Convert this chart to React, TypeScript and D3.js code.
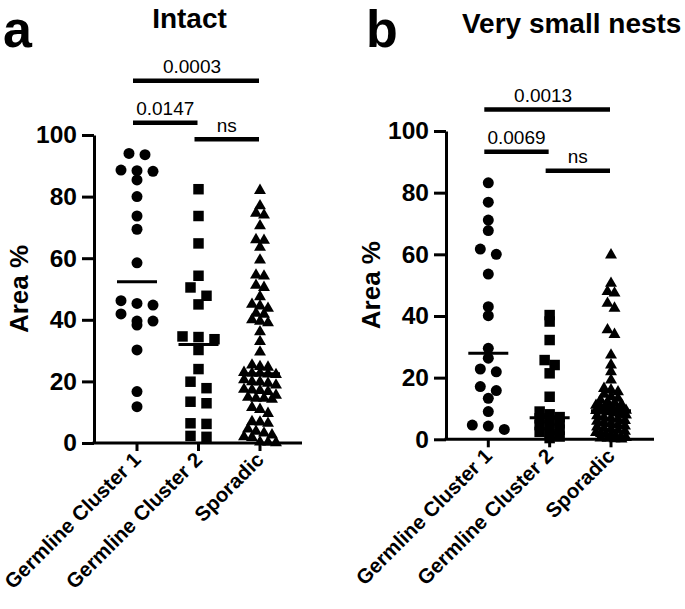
import React, { useEffect, useRef } from "react";
import * as d3 from "d3";

const categories = ["Germline Cluster 1", "Germline Cluster 2", "Sporadic"];
const yTicks = [0, 20, 40, 60, 80, 100];

// panel a - Intact
const intactCluster1 = [94, 93.6, 88.6, 88.4, 88.2, 85.4, 80, 73.7, 69.4, 58.5, 46.2, 45.3, 44.8, 41.9, 39.6, 39.6, 38.3, 30.2, 16.7, 11.8];
const intactCluster2 = [82.4, 73.7, 64.8, 54.3, 50.5, 47.8, 45, 34.6, 34.4, 33.7, 30.2, 24, 19.9, 17.8, 13.4, 12.9, 6.4, 6.2, 2.3, 2.0];
const intactSporadic = [
  82, 77, 74.6, 74, 70.5, 66, 65.8, 63.5, 59.4, 54.5, 54.2, 51.2, 50.5, 47.5, 45, 44.5, 43.7, 42.1, 41.8, 40,
  39.5, 39, 36.1, 32.9, 29.5, 25.3, 24.8, 24.6, 22.9, 22.6, 22.6, 22.4, 22.2, 20.5, 19.9, 19.8, 19.4, 18.8, 17.4, 17.2,
  17, 16.7, 15.5, 14.8, 14.5, 14.5, 14.2, 11.5, 10.9, 9.6, 6.9, 6.8, 6.4, 4.5, 3.8, 3.2, 2.6, 2.0, 1.8, 0.3, 0.2, 0.1,
];
const intactComparisons = [
  { from: 0, to: 2, label: "0.0003" },
  { from: 0, to: 1, label: "0.0147" },
  { from: 1, to: 2, label: "ns" },
];

// panel b - Very small nests
const nestsCluster1 = [83.2, 76.9, 71.1, 67.7, 61.7, 60, 53.6, 43, 40.1, 29.5, 26.3, 22.8, 21.9, 17.1, 15.8, 13.3, 9, 4.6, 4.3, 3.2];
const nestsCluster2 = [40.3, 38.2, 32.2, 25.7, 24.1, 21.4, 13.8, 9.0, 8.1, 7.2, 6.8, 6.1, 5.2, 4.6, 3.8, 3.1, 2.4, 1.6, 0.9, 0.4];
const nestsSporadic = [
  59.8, 50.6, 47.9, 47.4, 44.1, 42.5, 35.5, 34, 27.3, 24.1, 21.9, 19.2, 16.5, 16, 15.4, 14.6, 13.8, 13.3, 12.7, 12.1,
  11.8, 11.3, 11, 10.6, 10.3, 10.1, 9.9, 9.7, 9.5, 9.4, 9.3, 9.2, 8.9, 8.6, 8.2, 7.9, 7.6, 7.1, 6.8, 6.5,
  6.1, 5.8, 5.4, 5.1, 4.7, 4.3, 4.0, 3.6, 3.3, 2.9, 2.6, 2.2, 1.9, 1.6, 1.3, 1.0, 0.8, 0.6, 0.4, 0.3, 0.2, 0.1,
];
const nestsComparisons = [
  { from: 0, to: 2, label: "0.0013" },
  { from: 0, to: 1, label: "0.0069" },
  { from: 1, to: 2, label: "ns" },
];

const FONT = "'Liberation Sans', Arial, Helvetica, sans-serif";
const symbols = [
  d3.symbol().type(d3.symbolCircle).size(95),
  d3.symbol().type(d3.symbolSquare).size(110),
  d3.symbol().type(d3.symbolTriangle).size(62),
];

const panels = [
  {
    letter: "a", title: "Intact",
    series: [intactCluster1, intactCluster2, intactSporadic],
    comps: intactComparisons, levels: [117.6, 104, 98.6],
    top: 135, bottom: 443, left: 94, right: 302, x0: 137, x1: 260,
    titleX: 189.5, titleY: 28, letterX: 3, letterY: 47,
    spread: [{ rowH: 8, sp: 16, maxW: 32 }, { rowH: 9, sp: 16, maxW: 32 }, { rowH: 6, sp: 8, maxW: 34 }],
  },
  {
    letter: "b", title: "Very small nests",
    series: [nestsCluster1, nestsCluster2, nestsSporadic],
    comps: nestsComparisons, levels: [107, 93.3, 87.1],
    top: 131, bottom: 439.3, left: 446, right: 654, x0: 488.3, x1: 611,
    titleX: 571.7, titleY: 33, letterX: 366, letterY: 47,
    spread: [{ rowH: 8, sp: 16, maxW: 32 }, { rowH: 6, sp: 10, maxW: 32 }, { rowH: 5, sp: 7, maxW: 30 }],
  },
];

// GraphPad-like spreading: group points into rows by pixel y, centre each row
function spreadRows(values, y, cx, { rowH, sp, maxW }) {
  const pts = values.map(v => ({ v, py: y(v), px: cx })).sort((a, b) => a.py - b.py);
  const rows = [];
  let cur = [];
  for (const p of pts) {
    if (cur.length && p.py - cur[0].py >= rowH) { rows.push(cur); cur = []; }
    cur.push(p);
  }
  if (cur.length) rows.push(cur);
  rows.forEach(row => {
    const n = row.length;
    const s = n > 1 ? Math.min(sp, maxW / (n - 1)) : 0;
    row.forEach((p, i) => { p.px = cx + (i - (n - 1) / 2) * s; });
  });
  return pts;
}

const App = () => {
  const svgRef = useRef<SVGSVGElement>(null);

  useEffect(() => {
    const svg = d3.select(svgRef.current);
    svg.selectAll("*").remove();
    svg.append("rect").attr("width", 685).attr("height", 609).attr("fill", "#fff");

    panels.forEach(p => {
      const g = svg.append("g").style("font-family", FONT);
      const y = d3.scaleLinear().domain([0, 100]).range([p.bottom, p.top]);
      const x = d3.scalePoint().domain(categories).range([p.x0, p.x1]);

      g.append("text").attr("x", p.letterX).attr("y", p.letterY)
        .attr("font-size", 52).attr("font-weight", "bold").text(p.letter);
      g.append("text").attr("x", p.titleX).attr("y", p.titleY).attr("text-anchor", "middle")
        .attr("font-size", 28).attr("font-weight", "bold").text(p.title);

      // y axis
      const yAxis = g.append("g").attr("transform", `translate(${p.left},0)`)
        .call(d3.axisLeft(y).tickValues(yTicks).tickSize(12).tickSizeOuter(0).tickPadding(5));
      yAxis.select(".domain").attr("stroke-width", 3).attr("stroke", "#000");
      yAxis.selectAll(".tick line").attr("stroke-width", 3).attr("stroke", "#000");
      yAxis.selectAll(".tick text").attr("font-size", 24.5).attr("font-weight", "bold")
        .attr("font-family", FONT).attr("fill", "#000");

      g.append("text")
        .attr("transform", `translate(${p.left - 75},${(p.top + p.bottom) / 2}) rotate(-90)`)
        .attr("text-anchor", "middle").attr("dominant-baseline", "central")
        .attr("font-size", 26).attr("font-weight", "bold").text("Area %");

      // x axis
      g.append("line").attr("x1", p.left - 1.5).attr("x2", p.right).attr("y1", p.bottom).attr("y2", p.bottom)
        .attr("stroke", "#000").attr("stroke-width", 3);
      categories.forEach(c => {
        g.append("line").attr("x1", x(c)).attr("x2", x(c)).attr("y1", p.bottom).attr("y2", p.bottom + 8)
          .attr("stroke", "#000").attr("stroke-width", 3);
        g.append("text")
          .attr("transform", `translate(${x(c) + 5},${p.bottom + 18}) rotate(-45)`)
          .attr("text-anchor", "end").attr("font-size", 20.5).attr("font-weight", "bold").text(c);
      });

      // points and medians
      p.series.forEach((vals, i) => {
        const cx = x(categories[i]);
        const pts = spreadRows(vals, y, cx, p.spread[i]);
        g.append("g").selectAll("path").data(pts).join("path")
          .attr("transform", d => `translate(${d.px},${d.py})`)
          .attr("d", symbols[i]()).attr("fill", "#000");
        const m = y(d3.median(vals));
        g.append("line").attr("x1", cx - 20).attr("x2", cx + 20).attr("y1", m).attr("y2", m)
          .attr("stroke", "#000").attr("stroke-width", 3);
      });

      // significance bars
      p.comps.forEach((c, i) => {
        const xa = x(categories[c.from]) - 4;
        const xb = x(categories[c.to]) - 1;
        const yy = y(p.levels[i]);
        const dx = c.from === 0 && c.to === 2 ? -4 : 0;
        g.append("line").attr("x1", xa).attr("x2", xb).attr("y1", yy).attr("y2", yy)
          .attr("stroke", "#000").attr("stroke-width", 4.5);
        g.append("text").attr("x", (xa + xb) / 2 + dx).attr("y", yy - 7.5).attr("text-anchor", "middle")
          .attr("font-size", 19).text(c.label);
      });
    });
  }, []);

  return (
    <svg ref={svgRef} width={685} height={609}
      style={{ position: "absolute", left: 0, top: 0, display: "block" }} />
  );
};

export default App;
